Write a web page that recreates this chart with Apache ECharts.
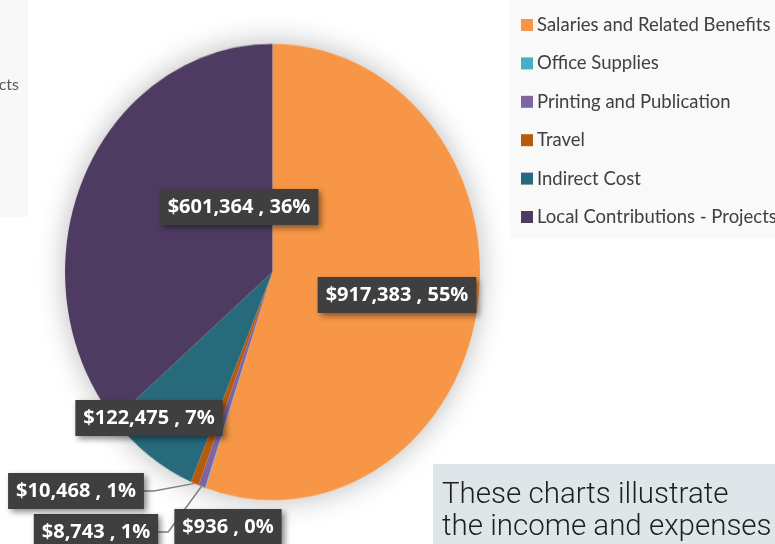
<!DOCTYPE html>
<html>
<head>
<meta charset="utf-8">
<script src="https://cdn.jsdelivr.net/npm/echarts@6/dist/echarts.min.js"></script>
<style>
html,body{margin:0;padding:0;background:#fff;}
#wrap{position:relative;width:775px;height:544px;overflow:hidden;}
#pieLayer{position:absolute;left:0;top:0;width:775px;height:544px;transform-origin:272.5px 272px;transform:scale(1,1.1);}
#top{position:absolute;left:0;top:0;width:775px;height:544px;}
</style>
</head>
<body>
<div id="wrap">
  <div id="pieLayer"></div>
  <div id="top"></div>
</div>
<script>
const categories = ['Salaries and Related Benefits','Office Supplies','Printing and Publication','Travel','Indirect Cost','Local Contributions - Projects'];
const values = [917383, 936, 8743, 10468, 122475, 601364];
const colors = ['#F79646','#4BACC6','#8064A2','#B65A0C','#276A7C','#4E3B62'];
const noteLines = ['These charts illustrate','the income and expenses'];

const total = values.reduce((a,b)=>a+b,0);
const fmt = v => '$' + v.toLocaleString('en-US');

// label placement (styling only)
const labelAt = [[397,295],[228,527],[96,532],[76,491],[149,418],[239,207]];

// Layer 1: the pie itself (stretched vertically like the reference)
const pieChart = echarts.init(document.getElementById('pieLayer'), null, {renderer:'canvas'});
pieChart.setOption({
  animation:false,
  series:[
    {
      type:'pie', silent:true, center:[272.5,272], radius:207.5, startAngle:90,
      data:[{name:'', value:total}],
      label:{show:false}, labelLine:{show:false},
      itemStyle:{color:'#ffffff', shadowBlur:28, shadowColor:'rgba(0,0,0,0.28)'}
    },
    {
      type:'pie', center:[272.5,272], radius:207.5, startAngle:90, clockwise:true,
      data:categories.map((n,i)=>({name:n, value:values[i], itemStyle:{color:colors[i]}})),
      label:{show:false}, labelLine:{show:false},
      itemStyle:{borderWidth:0}
    }
  ]
});

// Layer 2: legend, labels, text boxes
const chart = echarts.init(document.getElementById('top'), null, {renderer:'canvas'});
chart.setOption({
  animation:false,
  graphic:[
    {type:'rect', left:0, top:0, shape:{width:28,height:217}, style:{fill:'#f8f8f8'}, z:0},
    {type:'text', x:19, y:85, style:{text:'cts', align:'right', verticalAlign:'middle', font:'16px Lato', fill:'#595959'}},
    {type:'rect', left:433, top:464, shape:{width:342,height:80}, style:{fill:'#dfe6ea'}, z:0},
    {type:'text', x:442, y:480, style:{text:noteLines.join('\n'), font:'300 29.5px Roboto', lineHeight:32, fill:'#1e1e1e'}}
  ],
  legend:{
    orient:'vertical', left:510, top:0,
    padding:[15,20,11,11],
    backgroundColor:'#f9f9f9',
    itemGap:18.4, itemWidth:12, itemHeight:12, icon:'rect',
    data:categories.map((n,i)=>({name:n, itemStyle:{color:colors[i]}})),
    textStyle:{fontFamily:'Lato', fontSize:18.5, color:'#404040', lineHeight:20, padding:[0,0,0,-1]}
  },
  series:[
    {
      type:'pie', center:[272.5,291], radius:207.5, startAngle:90, clockwise:true,
      avoidLabelOverlap:false, silent:true,
      data:categories.map((n,i)=>({
        name:n, value:values[i], itemStyle:{color:'rgba(0,0,0,0)'},
        labelLine:{show: i===2 || i===3}
      })),
      label:{
        show:true,
        formatter:p => fmt(p.value) + ' , ' + Math.round(p.value/total*100) + '%',
        fontFamily:'Open Sans', fontWeight:'bold', fontSize:20, lineHeight:22,
        color:'#ffffff', backgroundColor:'#3f3f3f', padding:[7,8],
        shadowBlur:6, shadowColor:'rgba(0,0,0,0.45)', shadowOffsetX:3, shadowOffsetY:3
      },
      labelLine:{lineStyle:{color:'#7f7f7f', width:1.5}, length:10, length2:10},
      labelLayout:function(p){
        const a = labelAt[p.dataIndex];
        return {x:a[0], y:a[1], align:'center', verticalAlign:'middle'};
      },
      itemStyle:{borderWidth:0}
    }
  ]
});
</script>
</body>
</html>
